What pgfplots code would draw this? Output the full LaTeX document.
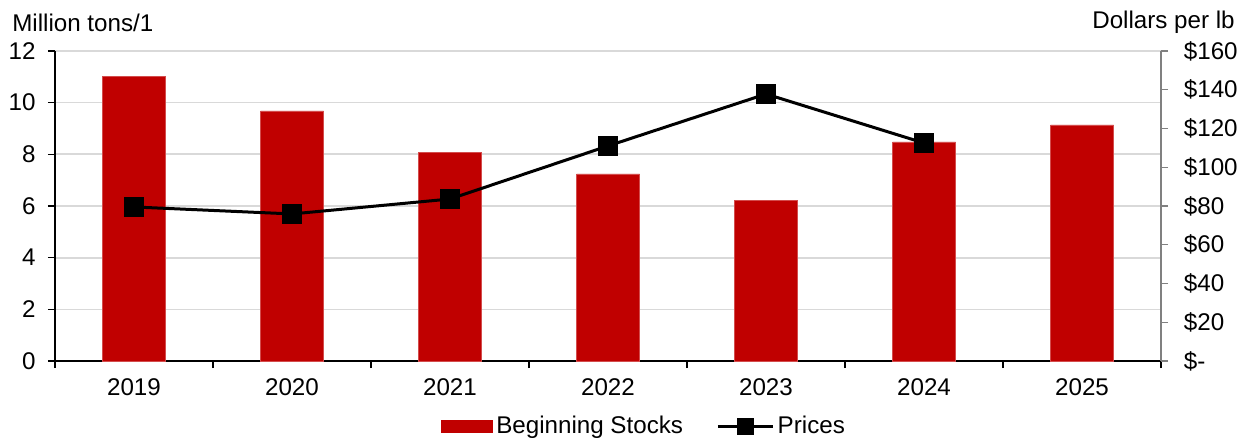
\documentclass[border=0pt]{standalone}
\usepackage{fontspec}
\setmainfont{Liberation Sans}
\usepackage{pgfplots}
\pgfplotsset{compat=1.18}
\definecolor{barred}{RGB}{192,0,0}
\definecolor{gridgray}{RGB}{217,217,217}
\definecolor{raxis}{RGB}{128,128,128}
\begin{document}
\begin{tikzpicture}[font=\fontsize{14.5}{16}\selectfont]
\begin{axis}[
  name=main,
  scale only axis,
  width=663.6pt, height=186pt,
  xmin=-0.5, xmax=6.5,
  ymin=0, ymax=12,
  ytick={0,2,...,12},
  xtick={0,...,6},
  xticklabels={2019,2020,2021,2022,2023,2024,2025},
  minor xtick={-0.5,0.5,...,6.5},
  major x tick style={draw=none},
  minor tick length=4.2pt,
  major tick length=4.2pt,
  tick align=outside,
  axis lines*=left,
  axis line style={-, black, line width=0.9pt},
  every tick/.style={black, line width=0.8pt},
  ymajorgrids,
  major grid style={gridgray, line width=1pt},
  /pgf/number format/assume math mode=true,
  yticklabel style={xshift=-4pt},
  xticklabel style={yshift=-3pt},
  legend style={draw=none, fill=none, at={(0.533,0)}, anchor=north, yshift=-31pt, legend columns=2, inner sep=0pt,
    /tikz/every even column/.append style={column sep=18pt}},
  legend image code/.code={\fill[barred] (0pt,-3.6pt) rectangle (31pt,3.6pt);},
]
\addplot[ybar, bar width=37.8pt, fill=barred, draw=barred!70!white, line width=0.3pt] coordinates {
(0,11.03) (1,9.68) (2,8.09) (3,7.24) (4,6.23) (5,8.48) (6,9.14)};
\addlegendentry{Beginning Stocks}
\addlegendimage{legend image code/.code={\draw[black, line width=1.8pt] (0pt,0pt) -- (33pt,0pt); \fill[black] (11.5pt,-5pt) rectangle (21.5pt,5pt);}}
\addlegendentry{Prices}
\end{axis}
\begin{axis}[
  scale only axis,
  width=663.6pt, height=186pt,
  xmin=-0.5, xmax=6.5,
  ymin=0, ymax=160,
  axis x line=none,
  axis y line*=right,
  axis line style={-, raxis, line width=0.9pt},
  ytick={0,20,...,160},
  yticklabels={\$-,\$20,\$40,\$60,\$80,\$100,\$120,\$140,\$160},
  tick align=outside,
  major tick length=4.2pt,
  every tick/.style={raxis, line width=0.8pt},
  yticklabel style={xshift=6pt},
]
\addplot[black, line width=1.8pt, mark=square*, mark size=5pt] coordinates {
(0,79.5) (1,75.9) (2,83.6) (3,111) (4,137.8) (5,112.5)};
\end{axis}
\node[anchor=base west, inner sep=0pt] at ([xshift=-25.8pt, yshift=11.4pt]main.north west) {Million tons/1};
\node[anchor=base east, inner sep=0pt] at ([xshift=44.4pt, yshift=13.2pt]main.north east) {Dollars per lb};
\pgfresetboundingbox
\path[use as bounding box] ([xshift=-33pt, yshift=-45.6pt]main.south west) rectangle ([xshift=49.8pt, yshift=30.6pt]main.north east);
\end{tikzpicture}
\end{document}
